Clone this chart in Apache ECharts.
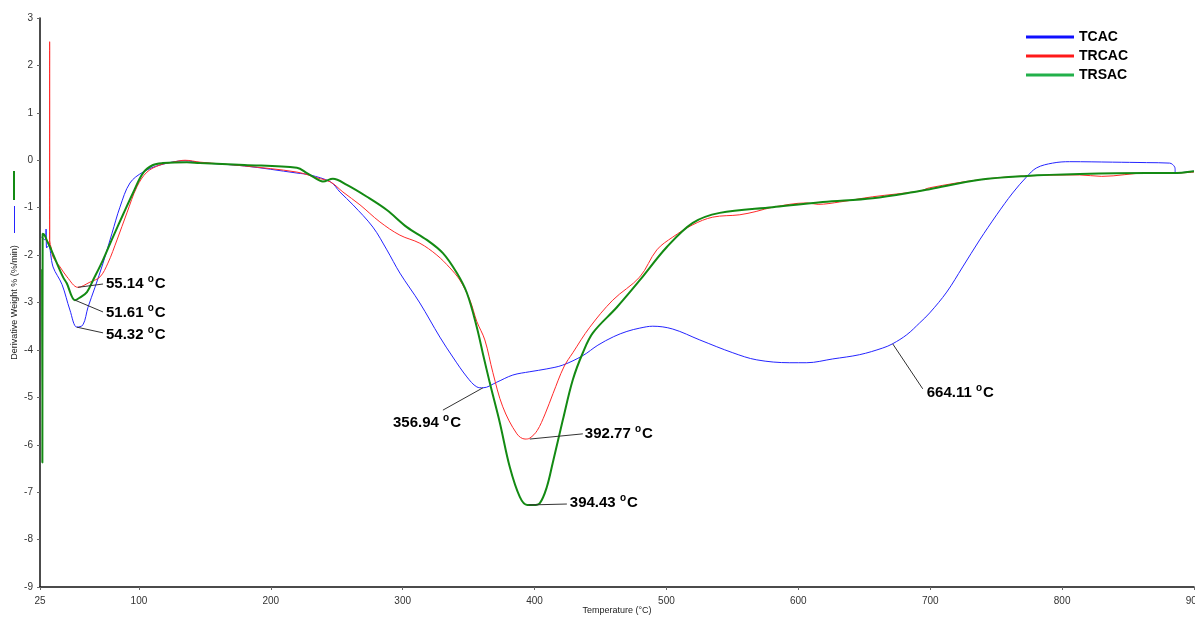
<!DOCTYPE html>
<html>
<head>
<meta charset="utf-8">
<script src="https://cdn.jsdelivr.net/npm/echarts@6/dist/echarts.min.js"></script>
<style>
html,body{margin:0;padding:0;background:#fff;}
#chart{width:1195px;height:617px;}
</style>
</head>
<body>
<div id="chart"></div>
<script>
// ---- data (Temperature °C, Derivative Weight %/min) ----
const seriesNames = ['TCAC', 'TRCAC', 'TRSAC'];
const xTicks = [25, 100, 200, 300, 400, 500, 600, 700, 800, 900];

const tcac = [
  [26.0,-1.62],[28.8,-1.68],[29.6,-1.45],[30.0,-1.85],[31.5,-1.80],[34.9,-2.25],[41.7,-2.62],
  [47.7,-3.16],[53.0,-3.52],[57.6,-3.47],[61.4,-3.10],[66.7,-2.68],[72.8,-2.17],[79.6,-1.54],
  [85.6,-0.99],[93.2,-0.48],[103.1,-0.25],[116.0,-0.10],[135.0,-0.01],[146.3,-0.05],[180.0,-0.12],
  [219.8,-0.27],[229.7,-0.31],[245.4,-0.46],[252.4,-0.67],[262.3,-0.94],[277.4,-1.41],[288.0,-1.89],
  [297.9,-2.38],[313.0,-3.01],[328.2,-3.73],[338.0,-4.15],[348.7,-4.57],[356.2,-4.78],[360.8,-4.80],
  [371.4,-4.68],[383.5,-4.53],[396.4,-4.46],[409.3,-4.40],[421.4,-4.32],[436.6,-4.12],[448.0,-3.90],
  [460.0,-3.72],[470.0,-3.61],[479.8,-3.54],[489.6,-3.50],[504.8,-3.56],[525.3,-3.79],[550.3,-4.06],
  [568.5,-4.21],[593.5,-4.27],[606.4,-4.27],[626.1,-4.19],[646.5,-4.10],[664.0,-3.96],[671.5,-3.87],
  [682.2,-3.68],[692.0,-3.43],[699.6,-3.22],[712.5,-2.78],[724.6,-2.25],[737.5,-1.68],[750.4,-1.15],
  [762.5,-0.69],[773.1,-0.35],[780.7,-0.16],[792.8,-0.06],[805.7,-0.03],[838.3,-0.04],[864.1,-0.05],
  [881.5,-0.06],[885.3,-0.14],[886.1,-0.27],[900.0,-0.23]
];

const trcac = [
  [29.0,-1.62],[31.0,-1.72],[32.2,-1.78],[32.3,2.50],[32.4,-1.70],[33.5,-1.85],[34.9,-2.04],
  [40.2,-2.25],[45.5,-2.46],[53.8,-2.68],[62.9,-2.57],[70.5,-2.46],[76.5,-2.17],[83.4,-1.68],
  [90.9,-1.11],[98.5,-0.56],[106.1,-0.25],[116.0,-0.10],[125.8,-0.04],[135.0,0.0],[146.3,-0.04],
  [180.0,-0.12],[219.8,-0.25],[235.0,-0.37],[245.4,-0.46],[254.7,-0.67],[267.6,-0.94],[282.7,-1.30],
  [297.9,-1.58],[313.0,-1.75],[325.9,-2.00],[335.8,-2.27],[343.4,-2.53],[351.0,-2.95],[356.2,-3.40],
  [362.3,-3.79],[368.4,-4.48],[375.9,-5.20],[386.6,-5.77],[392.8,-5.88],[396.4,-5.86],[402.0,-5.70],
  [408.0,-5.35],[414.0,-4.92],[422.2,-4.36],[429.0,-4.06],[441.9,-3.52],[459.3,-2.95],[479.8,-2.46],
  [492.7,-1.89],[504.8,-1.62],[520.0,-1.36],[535.1,-1.20],[555.6,-1.15],[568.0,-1.08],[580.6,-0.99],
  [606.4,-0.90],[615.0,-0.93],[631.4,-0.88],[656.4,-0.77],[692.0,-0.65],[699.6,-0.58],[737.5,-0.41],
  [773.1,-0.33],[813.3,-0.31],[830.0,-0.34],[864.1,-0.27],[883.8,-0.27],[900.0,-0.25]
];

const trsac = [
  [26.6,-2.30],[26.8,-6.38],[27.0,-1.55],[28.5,-1.58],[30.3,-1.70],[32.6,-1.83],[34.9,-1.98],
  [42.4,-2.46],[45.2,-2.59],[51.5,-2.95],[55.0,-2.90],[60.6,-2.78],[65.2,-2.53],[72.8,-2.10],
  [80.3,-1.62],[87.9,-1.15],[95.5,-0.69],[103.1,-0.27],[110.7,-0.10],[118.2,-0.06],[136.4,-0.04],
  [146.3,-0.06],[180.0,-0.10],[219.8,-0.16],[227.4,-0.27],[237.2,-0.43],[239.5,-0.45],[247.1,-0.39],
  [257.7,-0.52],[272.9,-0.77],[288.0,-1.05],[303.2,-1.41],[318.3,-1.68],[330.5,-1.96],[341.1,-2.38],
  [348.7,-2.80],[356.2,-3.52],[361.0,-4.10],[366.1,-4.70],[373.7,-5.54],[381.2,-6.47],[388.8,-7.10],
  [394.4,-7.27],[399.0,-7.27],[404.0,-7.23],[409.3,-6.89],[413.8,-6.38],[421.4,-5.48],[429.0,-4.63],
  [436.6,-4.06],[444.2,-3.64],[462.4,-3.10],[479.8,-2.53],[500.3,-1.83],[520.0,-1.32],[540.4,-1.11],
  [580.6,-0.99],[618.5,-0.88],[656.4,-0.80],[692.0,-0.65],[699.6,-0.61],[737.5,-0.41],[773.1,-0.33],
  [813.3,-0.29],[864.1,-0.27],[883.8,-0.27],[900.0,-0.23]
];

// peak annotations: label, peak point, leader end, text anchor (left-middle)
const annLabels = ['55.14', '51.61', '54.32', '356.94', '392.77', '394.43', '664.11'];
const annPoints = [[53.8,-2.68],[51.5,-2.95],[53.0,-3.52],[360.8,-4.80],[396.4,-5.88],[395.6,-7.27],[671.5,-3.87]];
const annEnds   = [[72.8,-2.61],[72.8,-3.20],[72.8,-3.64],[330.5,-5.27],[436.6,-5.77],[424.5,-7.25],[694.3,-4.82]];
const annText   = [[75.0,-2.61],[75.0,-3.22],[75.0,-3.68],[292.6,-5.54],[438.1,-5.76],[426.7,-7.23],[697.3,-4.90]];

const lineColors = ['#2424ff', '#ff2a2a', '#138a13'];
const legendColors = ['#1010ff', '#ff1a1a', '#22b04a'];
const lineWidths = [1, 1, 2];

const FONT = '"Liberation Sans", Arial, sans-serif';
const chart = echarts.init(document.getElementById('chart'), null, {renderer: 'canvas'});

const dataSets = [tcac, trcac, trsac];
const lineSeries = seriesNames.map((n, i) => ({
  name: n, type: 'line', data: dataSets[i], showSymbol: false, symbol: 'none',
  smooth: 0.35, animation: false, clip: true,
  lineStyle: {color: lineColors[i], width: lineWidths[i]},
  itemStyle: {color: lineColors[i]}, z: 2 + i
}));

const leaderSeries = {
  type: 'lines', coordinateSystem: 'cartesian2d', silent: true, animation: false, z: 6,
  lineStyle: {color: '#333333', width: 1, opacity: 1},
  data: annLabels.map((l, i) => ({coords: [annPoints[i], annEnds[i]]}))
};

const labelSeries = {
  type: 'scatter', silent: true, animation: false, z: 7, symbol: 'circle', symbolSize: 0.1,
  itemStyle: {color: '#ffffff', opacity: 1},
  data: annLabels.map((l, i) => ({value: annText[i], name: l})),
  label: {
    show: true, position: 'right', distance: 0, color: '#000', opacity: 1,
    formatter: p => '{a|' + p.name + ' }{s|o}{a|C}',
    rich: {
      a: {fontFamily: FONT, fontSize: 15, fontWeight: 'bold', color: '#000', lineHeight: 18},
      s: {fontFamily: FONT, fontSize: 10, fontWeight: 'bold', color: '#000', lineHeight: 10, padding: [0, 1, 9, 0]}
    }
  }
};

chart.setOption({
  backgroundColor: '#ffffff',
  animation: false,
  grid: {left: 40, right: 1, top: 18, bottom: 30, containLabel: false, outerBoundsMode: 'none'},
  legend: {
    data: seriesNames.map((n, i) => ({name: n, itemStyle: {color: legendColors[i]}})),
    orient: 'vertical', left: 1021, top: 24,
    icon: 'rect', itemWidth: 48, itemHeight: 3, itemGap: 3,
    textStyle: {fontFamily: FONT, fontSize: 14, fontWeight: 'bold', color: '#000', lineHeight: 16},
    selectedMode: false
  },
  xAxis: {
    type: 'value', min: 25, max: 900,
    name: 'Temperature (°C)', nameLocation: 'middle', nameGap: 19, nameMoveOverlap: false,
    nameTextStyle: {fontFamily: FONT, fontSize: 9, color: '#222'},
    axisLine: {show: true, onZero: false, lineStyle: {color: '#111', width: 1.5}},
    axisTick: {show: true, length: 3, customValues: xTicks, lineStyle: {color: '#666'}},
    axisLabel: {customValues: xTicks, fontFamily: FONT, fontSize: 10, color: '#333', margin: 9},
    splitLine: {show: false}
  },
  yAxis: {
    type: 'value', min: -9, max: 3, interval: 1,
    name: 'Derivative Weight % (%/min)', nameLocation: 'middle', nameGap: 21, nameMoveOverlap: false,
    nameTextStyle: {fontFamily: FONT, fontSize: 9, color: '#222'},
    axisLine: {show: true, lineStyle: {color: '#111', width: 1.5}},
    axisTick: {show: true, length: 3, lineStyle: {color: '#666'}},
    axisLabel: {fontFamily: FONT, fontSize: 10, color: '#333', margin: 7},
    splitLine: {show: false}
  },
  graphic: [
    {type: 'line', shape: {x1: 14, y1: 171, x2: 14, y2: 200}, style: {stroke: lineColors[2], lineWidth: 2}},
    {type: 'line', shape: {x1: 14.5, y1: 206, x2: 14.5, y2: 233}, style: {stroke: lineColors[0], lineWidth: 1}}
  ],
  series: [...lineSeries, leaderSeries, labelSeries]
});
</script>
</body>
</html>
